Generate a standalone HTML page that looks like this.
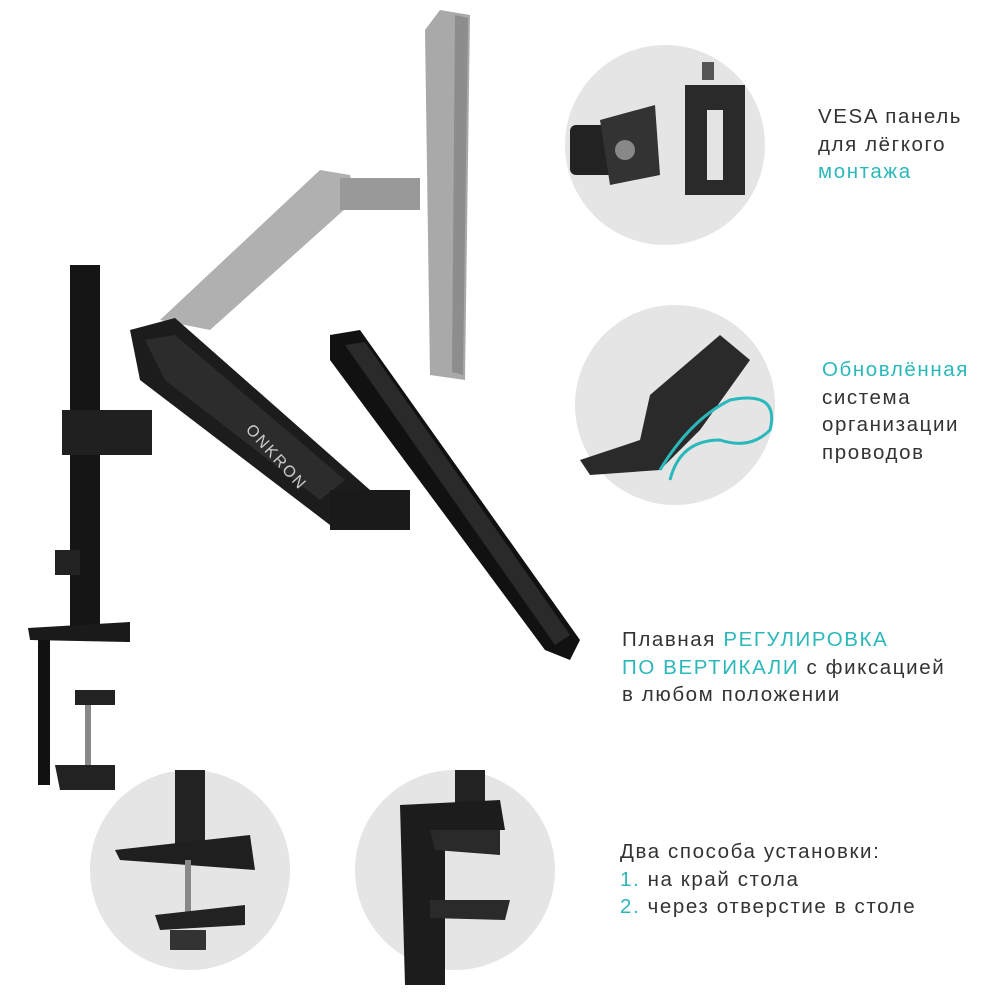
<!DOCTYPE html>
<html><head><meta charset="utf-8">
<style>
body{margin:0;width:1000px;height:1000px;background:#fff;position:relative;overflow:hidden;font-family:"Liberation Sans",sans-serif;}
.t{position:absolute;font-size:20.5px;color:#333;line-height:27.5px;letter-spacing:1.6px;white-space:nowrap}
.c{color:#2bb8bb}
svg{position:absolute;left:0;top:0}
</style></head><body>
<svg width="1000" height="1000" viewBox="0 0 1000 1000">
<circle cx="665" cy="145" r="100" fill="#e5e5e5"/>
<circle cx="675" cy="405" r="100" fill="#e5e5e5"/>
<circle cx="190" cy="870" r="100" fill="#e5e5e5"/>
<circle cx="455" cy="870" r="100" fill="#e5e5e5"/>
<rect x="570" y="125" width="50" height="50" rx="6" fill="#222"/>
<polygon points="600,120 655,105 660,175 610,185" fill="#333"/>
<circle cx="625" cy="150" r="10" fill="#888"/>
<polygon points="685,85 745,85 745,195 685,195" fill="#2a2a2a"/>
<rect x="707" y="110" width="16" height="70" fill="#e5e5e5"/>
<rect x="702" y="62" width="12" height="18" fill="#555"/>
<polygon points="580,460 640,440 650,395 720,335 750,360 700,430 660,470 590,475" fill="#2a2a2a"/>
<path d="M660 470 Q690 420 730 400 Q780 390 770 430 Q750 450 720 440 Q680 440 670 480" stroke="#2bb8bb" stroke-width="3" fill="none"/>
<rect x="175" y="770" width="30" height="80" fill="#222"/>
<polygon points="115,850 250,835 255,870 120,860" fill="#1f1f1f"/>
<rect x="185" y="860" width="6" height="60" fill="#888"/>
<polygon points="155,915 245,905 245,925 160,930" fill="#222"/>
<rect x="170" y="930" width="36" height="20" fill="#333"/>
<rect x="455" y="770" width="30" height="40" fill="#222"/>
<polygon points="400,805 500,800 505,830 445,830 445,985 405,985" fill="#1c1c1c"/>
<polygon points="430,830 500,830 500,855 435,850" fill="#2a2a2a"/>
<polygon points="430,900 510,900 505,920 430,918" fill="#2a2a2a"/>
<polygon points="440,10 470,15 465,380 430,375 425,30" fill="#a9a9a9"/>
<polygon points="455,15 468,18 463,375 452,372" fill="#8d8d8d"/>
<polygon points="160,320 320,170 350,175 355,200 210,330" fill="#b0b0b0"/>
<rect x="340" y="178" width="80" height="32" fill="#999"/>
<rect x="70" y="265" width="30" height="365" fill="#151515"/>
<rect x="62" y="410" width="90" height="45" fill="#202020"/>
<rect x="55" y="550" width="25" height="25" fill="#222"/>
<polygon points="130,330 175,318 370,490 360,520 330,525 140,380" fill="#1c1c1c"/>
<polygon points="145,340 175,335 345,480 320,500 165,380" fill="#2c2c2c"/>
<rect x="330" y="490" width="80" height="40" fill="#1a1a1a"/>
<text x="0" y="0" transform="translate(245,430) rotate(48)" font-family="Liberation Sans" font-size="16" fill="#ccc" letter-spacing="2">ONKRON</text>
<polygon points="330,335 360,330 580,640 570,660 545,650 330,360" fill="#111"/>
<polygon points="345,345 365,342 570,635 555,645" fill="#2a2a2a"/>
<polygon points="28,628 130,622 130,642 30,640" fill="#1a1a1a"/>
<rect x="38" y="640" width="12" height="145" fill="#111"/>
<rect x="75" y="690" width="40" height="15" fill="#222"/>
<rect x="85" y="705" width="6" height="60" fill="#888"/>
<polygon points="55,765 115,765 115,790 60,790" fill="#222"/>
</svg>
<div class="t" style="left:818px;top:103px">VESA панель<br>для лёгкого<br><span class="c">монтажа</span></div>
<div class="t" style="left:822px;top:356px"><span class="c">Обновлённая</span><br>система<br>организации<br>проводов</div>
<div class="t" style="left:622px;top:626px">Плавная <span class="c">РЕГУЛИРОВКА<br>ПО ВЕРТИКАЛИ</span> с фиксацией<br>в любом положении</div>
<div class="t" style="left:620px;top:838px">Два способа установки:<br><span class="c">1.</span> на край стола<br><span class="c">2.</span> через отверстие в столе</div>
</body></html>
